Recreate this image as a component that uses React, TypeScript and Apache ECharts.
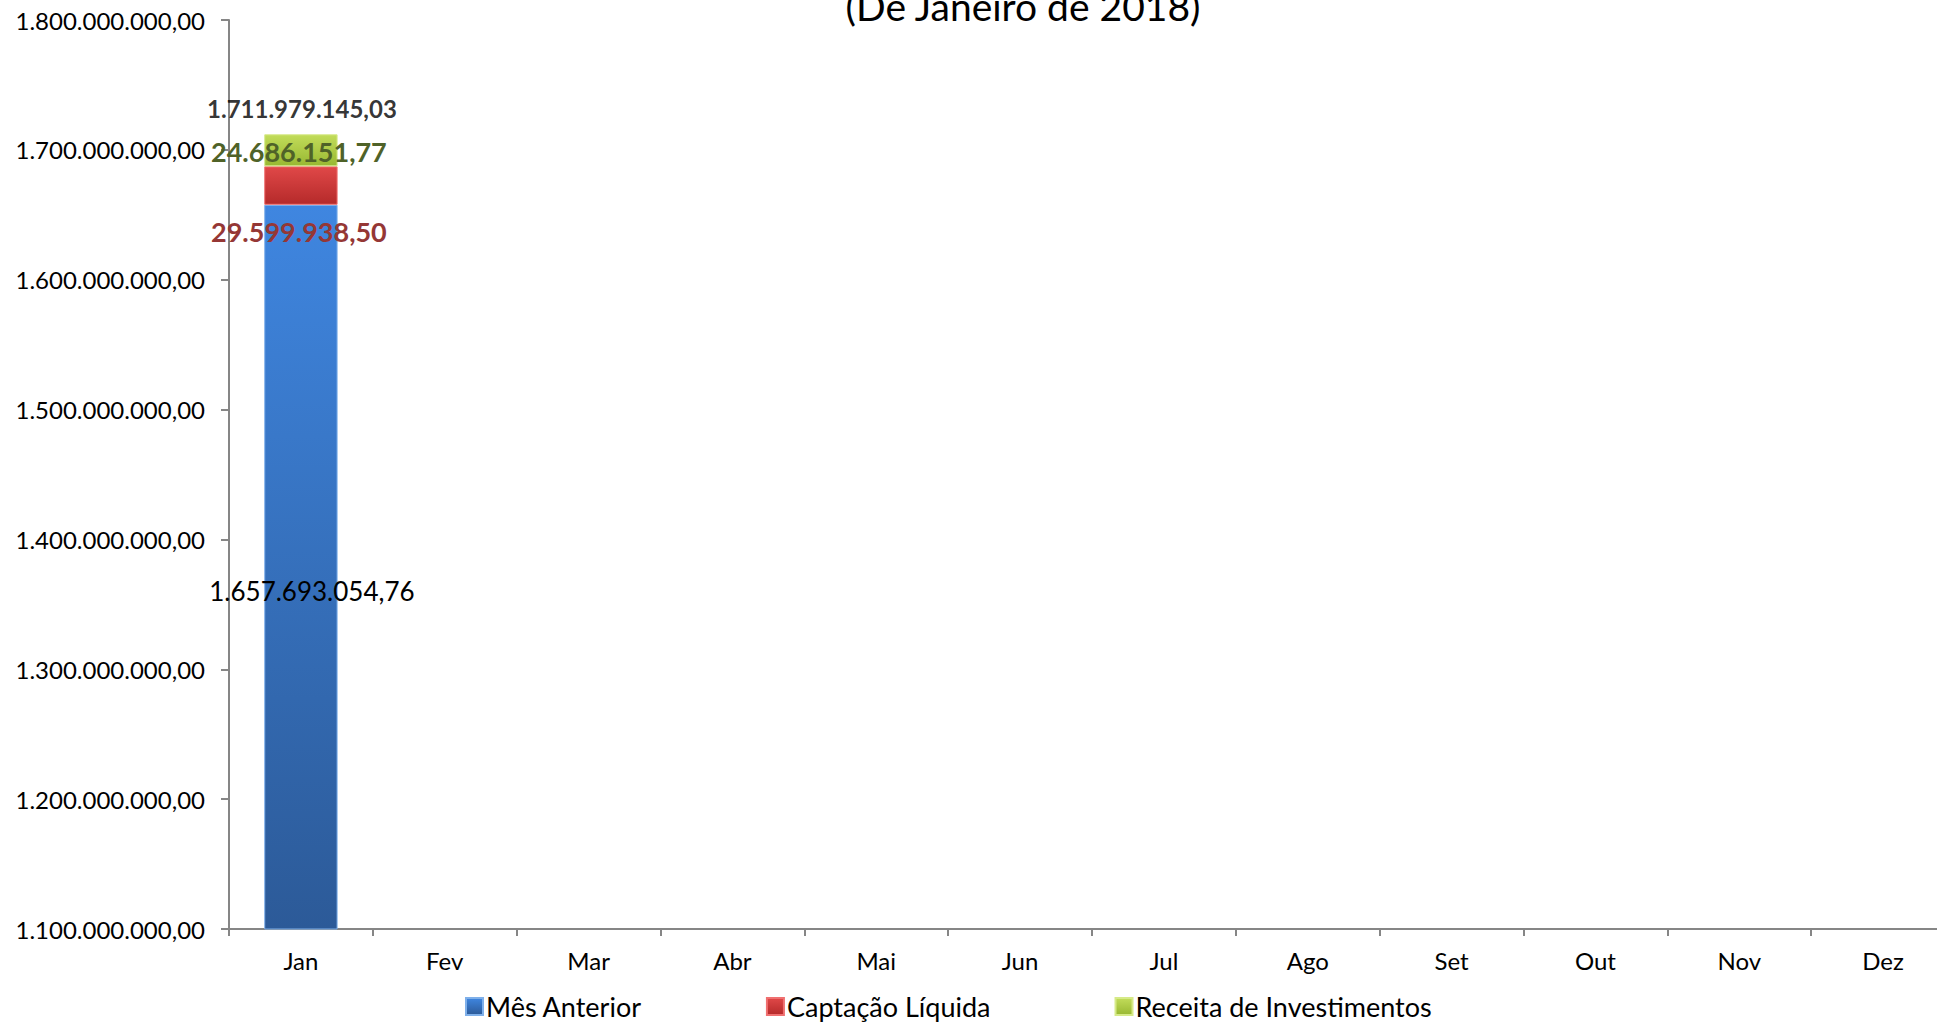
import React, { useEffect, useRef } from "react";
import * as echarts from "echarts";

const months = ["Jan", "Fev", "Mar", "Abr", "Mai", "Jun", "Jul", "Ago", "Set", "Out", "Nov", "Dez"];
const mesAnterior = [1657693054.76, null, null, null, null, null, null, null, null, null, null, null];
const captacaoLiquida = [29599938.5, null, null, null, null, null, null, null, null, null, null, null];
const receitaInvest = [24686151.77, null, null, null, null, null, null, null, null, null, null, null];
const totals = [1711979145.03, null, null, null, null, null, null, null, null, null, null, null];
const titleText = "(De Janeiro de 2018)";

const FONT = "Lato, 'Open Sans', sans-serif";

function formatBR(v: number): string {
  const neg = v < 0;
  const abs = Math.abs(v);
  const fixed = abs.toFixed(2);
  const [intPart, dec] = fixed.split(".");
  const withDots = intPart.replace(/\B(?=(\d{3})+(?!\d))/g, ".");
  return (neg ? "-" : "") + withDots + "," + dec;
}

export default function App() {
  const ref = useRef<HTMLDivElement>(null);
  useEffect(() => {
    if (!ref.current) return;
    document.body.style.overflow = "hidden";
    const chart = echarts.init(ref.current, undefined, { renderer: "svg" });
    const grad = (top: string, bottom: string) =>
      new echarts.graphic.LinearGradient(0, 0, 0, 1, [
        { offset: 0, color: top },
        { offset: 1, color: bottom },
      ]);
    chart.setOption({
      animation: false,
      backgroundColor: "#ffffff",
      textStyle: { fontFamily: FONT },
      title: {
        text: titleText,
        left: 1018,
        textAlign: "center",
        top: -19,
        textStyle: { fontSize: 39, fontWeight: "normal", color: "#000", fontFamily: FONT },
      },
      legend: {
        data: ["Mês Anterior", "Captação Líquida", "Receita de Investimentos"],
        left: 460,
        top: 988,
        itemGap: 124,
        itemWidth: 17,
        itemHeight: 17,
        icon: "rect",
        textStyle: { fontSize: 27, color: "#000", fontFamily: FONT, padding: [0, 0, 0, -2] },
      },
      grid: { left: 229, width: 1726, top: 20, height: 909, containLabel: false },
      xAxis: {
        type: "category",
        data: months,
        axisLine: { lineStyle: { color: "#868686", width: 2 } },
        axisTick: { show: true, length: 7, lineStyle: { color: "#868686", width: 2 } },
        axisLabel: { fontSize: 24, color: "#000", margin: 19, fontFamily: FONT },
      },
      yAxis: {
        type: "value",
        min: 1100000000,
        max: 1800000000,
        interval: 100000000,
        splitLine: { show: false },
        axisLine: { show: true, lineStyle: { color: "#868686", width: 2 } },
        axisTick: { show: true, length: 8, lineStyle: { color: "#868686", width: 2 } },
        axisLabel: {
          fontSize: 24,
          color: "#000",
          margin: 24,
          fontFamily: FONT,
          formatter: (v: number) => formatBR(v),
        },
      },
      series: [
        {
          name: "Mês Anterior",
          type: "bar",
          stack: "total",
          barWidth: "51%",
          data: mesAnterior,
          itemStyle: { color: grad("#3f86e0", "#2c5a98"), borderColor: "#7fb0ea", borderWidth: 1 },
          label: {
            show: true,
            position: "inside",
            offset: [11, 24],
            color: "#000",
            fontSize: 26,
            fontFamily: FONT,
            formatter: (p: any) => formatBR(p.value),
          },
        },
        {
          name: "Captação Líquida",
          type: "bar",
          stack: "total",
          data: captacaoLiquida,
          itemStyle: { color: grad("#e04848", "#b52a2a"), borderColor: "#f07070", borderWidth: 1 },
          label: {
            show: true,
            position: "inside",
            offset: [-2, 46],
            color: "#953735",
            fontSize: 27,
            fontWeight: "bold",
            fontFamily: FONT,
            formatter: (p: any) => formatBR(p.value),
          },
        },
        {
          name: "Receita de Investimentos",
          type: "bar",
          stack: "total",
          data: receitaInvest,
          itemStyle: { color: grad("#c2dc5a", "#98b832"), borderColor: "#d6ea88", borderWidth: 1 },
          label: {
            show: true,
            position: "inside",
            offset: [-2, 1],
            color: "#4f6228",
            fontSize: 27,
            fontWeight: "bold",
            fontFamily: FONT,
            formatter: (p: any) => formatBR(p.value),
          },
        },
        {
          name: "Total",
          type: "scatter",
          data: totals,
          symbolSize: 0,
          silent: true,
          label: {
            show: true,
            position: "top",
            distance: 14,
            offset: [1, 0],
            color: "#000",
            fontSize: 24,
            fontWeight: "bold",
            fontFamily: FONT,
            formatter: (p: any) => formatBR(p.value),
          },
        },
      ],
    });
    return () => chart.dispose();
  }, []);
  return (
    <div
      ref={ref}
      style={{ position: "fixed", left: 0, top: 0, width: "1960px", height: "1022px" }}
    />
  );
}
